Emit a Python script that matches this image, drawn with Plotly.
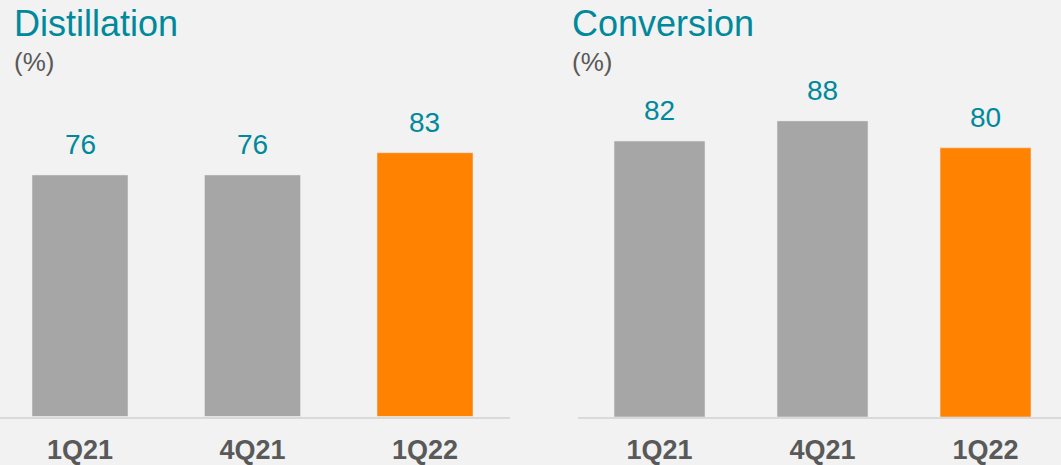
import plotly.graph_objects as go

W, H = 1061, 465

categories = ["1Q21", "4Q21", "1Q22"]
distillation = [76, 76, 83]
conversion = [82, 88, 80]
titles = ["Distillation", "Conversion"]
unit_label = "(%)"

GRAY = "#A6A6A6"
ORANGE = "#FF8200"
TEAL = "#00899C"
TXT = "#595959"
BG = "#F1F2F1"
FONT = "Arial, Liberation Sans, sans-serif"

bar_colors = [GRAY, GRAY, ORANGE]

def px_x(p):
    return p / W

def px_y(p):
    return 1 - p / H

fig = go.Figure()

fig.add_trace(go.Bar(x=categories, y=distillation, marker_color=bar_colors, width=0.5565,
                     xaxis="x", yaxis="y", hoverinfo="skip"))
fig.add_trace(go.Bar(x=categories, y=conversion, marker_color=bar_colors, width=0.558,
                     xaxis="x2", yaxis="y2", hoverinfo="skip"))

base_l, scale_l = 416.5, 3.178
base_r, scale_r = 417.0, 3.365

axis_common = dict(showgrid=False, zeroline=False, ticks="", showline=True,
                   linecolor="#D9D9D9", linewidth=2, fixedrange=True,
                   tickfont=dict(family=FONT, size=27, color=TXT, weight="bold"),
                   ticklabelstandoff=8, type="category")

fig.update_layout(
    width=W, height=H,
    margin=dict(l=0, r=0, t=0, b=0),
    paper_bgcolor=BG, plot_bgcolor=BG,
    showlegend=False,
    bargap=0,
    xaxis=dict(domain=[0, px_x(510)], range=[-0.4638, 2.4928], anchor="y", **axis_common),
    yaxis=dict(domain=[px_y(base_l), 1], range=[0, base_l / scale_l], visible=False, anchor="x"),
    xaxis2=dict(domain=[px_x(578), 1], range=[-0.5, 2.463], anchor="y2", **axis_common),
    yaxis2=dict(domain=[px_y(base_r), 1], range=[0, base_r / scale_r], visible=False, anchor="x2"),
)

annotations = []
for xa, ya, vals in (("x", "y", distillation), ("x2", "y2", conversion)):
    for c, v in zip(categories, vals):
        annotations.append(dict(x=c, y=v, xref=xa, yref=ya, text=str(v), showarrow=False,
                                xanchor="center", yanchor="bottom", yshift=13,
                                font=dict(family=FONT, size=28, color=TEAL)))

for t, xp in zip(titles, (12, 570)):
    annotations.append(dict(x=px_x(xp), y=px_y(1.5), xref="paper", yref="paper", text=t,
                            showarrow=False, xanchor="left", yanchor="top",
                            font=dict(family=FONT, size=36, color=TEAL)))
    annotations.append(dict(x=px_x(xp), y=px_y(45), xref="paper", yref="paper", text=unit_label,
                            showarrow=False, xanchor="left", yanchor="top",
                            font=dict(family=FONT, size=26, color=TXT)))

fig.update_layout(annotations=annotations)

fig.write_html("out.html", config={"displayModeBar": False, "staticPlot": True},
               post_script="document.body.style.margin='0';document.body.style.background='#F1F2F1';document.body.style.overflow='hidden';")
